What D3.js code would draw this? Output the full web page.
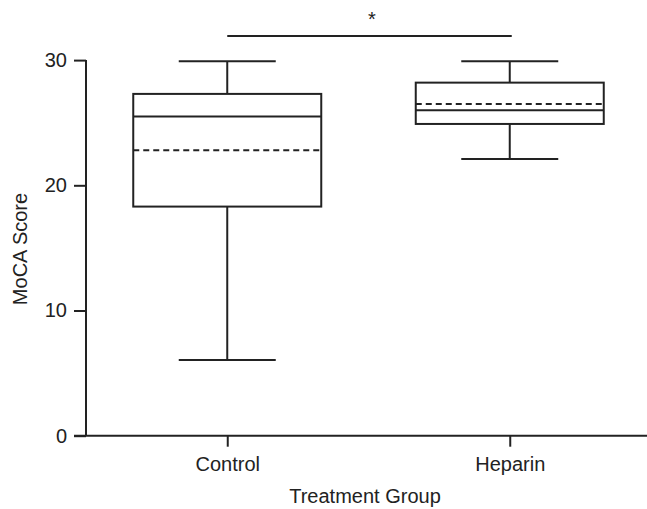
<!DOCTYPE html>
<html>
<head>
<meta charset="utf-8">
<script src="https://cdn.jsdelivr.net/npm/d3@7"></script>
<style>
	body { margin: 0; background: #fff; }
	svg { display: block; font-family: 'Liberation Sans', Arial, sans-serif; }
</style>
</head>
<body>
<svg id="chart" width="647" height="509"></svg>
<script>
// data
const groups = ['Control', 'Heparin']
const whiskerLow = [6.05, 22.1]
const q1 = [18.3, 24.9]
const median = [25.5, 26.0]
const mean = [22.8, 26.5]
const q3 = [27.3, 28.2]
const whiskerHigh = [29.9, 29.9]
const yTicks = [0, 10, 20, 30]
const sigLabel = '*'

const ink = '#222'
const fontSize = 20
const svg = d3.select('#chart')

const x = d3.scalePoint().domain(groups).range([86, 651]).padding(0.5)
const y = d3.scaleLinear().domain([0, 30]).range([435.7, 60.1])

const boxW = 188
const capW = 97

// y axis
svg.append('g')
	.attr('transform', 'translate(86,0)')
	.call(d3.axisLeft(y).tickValues(yTicks).tickSize(12).tickPadding(7).tickSizeOuter(0))
	.call(g => g.select('.domain').attr('d', `M0,${y(0)}V${y(30)}`))

// x axis
svg.append('g')
	.attr('transform', `translate(0,${y(0)})`)
	.call(d3.axisBottom(x).tickSize(11).tickPadding(10).tickSizeOuter(0))
	.call(g => g.select('.domain').attr('d', 'M74,0H647'))

svg.selectAll('.tick text').attr('font-size', fontSize).attr('fill', ink)
svg.selectAll('.domain, .tick line').attr('stroke', ink).attr('stroke-width', 2)

const boxes = svg.append('g')
	.selectAll('g')
	.data(groups.map((g, i) => ({ g, i })))
	.join('g')
	.attr('fill', 'none')
	.attr('stroke', ink)
	.attr('stroke-width', 2)

// whiskers
boxes.append('line')
	.attr('x1', d => x(d.g)).attr('x2', d => x(d.g))
	.attr('y1', d => y(whiskerHigh[d.i])).attr('y2', d => y(q3[d.i]))
boxes.append('line')
	.attr('x1', d => x(d.g)).attr('x2', d => x(d.g))
	.attr('y1', d => y(q1[d.i])).attr('y2', d => y(whiskerLow[d.i]))
boxes.append('line')
	.attr('x1', d => x(d.g) - capW / 2).attr('x2', d => x(d.g) + capW / 2)
	.attr('y1', d => y(whiskerHigh[d.i])).attr('y2', d => y(whiskerHigh[d.i]))
boxes.append('line')
	.attr('x1', d => x(d.g) - capW / 2).attr('x2', d => x(d.g) + capW / 2)
	.attr('y1', d => y(whiskerLow[d.i])).attr('y2', d => y(whiskerLow[d.i]))

// box
boxes.append('rect')
	.attr('x', d => x(d.g) - boxW / 2)
	.attr('width', boxW)
	.attr('y', d => y(q3[d.i]))
	.attr('height', d => y(q1[d.i]) - y(q3[d.i]))

// median and mean
boxes.append('line')
	.attr('x1', d => x(d.g) - boxW / 2).attr('x2', d => x(d.g) + boxW / 2)
	.attr('y1', d => y(median[d.i])).attr('y2', d => y(median[d.i]))
boxes.append('line')
	.attr('stroke-dasharray', '6,4')
	.attr('x1', d => x(d.g) - boxW / 2).attr('x2', d => x(d.g) + boxW / 2)
	.attr('y1', d => y(mean[d.i])).attr('y2', d => y(mean[d.i]))

// significance bar
svg.append('line')
	.attr('x1', x(groups[0])).attr('x2', x(groups[1]) + 2)
	.attr('y1', 36).attr('y2', 36)
	.attr('stroke', ink).attr('stroke-width', 2)
svg.append('text')
	.attr('x', 372).attr('y', 26)
	.attr('text-anchor', 'middle')
	.attr('font-size', fontSize).attr('fill', ink)
	.text(sigLabel)

// axis titles
svg.append('text')
	.attr('x', 365).attr('y', 503)
	.attr('text-anchor', 'middle')
	.attr('font-size', fontSize).attr('fill', ink)
	.text('Treatment Group')
svg.append('text')
	.attr('transform', 'translate(27,249) rotate(-90)')
	.attr('text-anchor', 'middle')
	.attr('font-size', fontSize).attr('fill', ink)
	.text('MoCA Score')
</script>
</body>
</html>
